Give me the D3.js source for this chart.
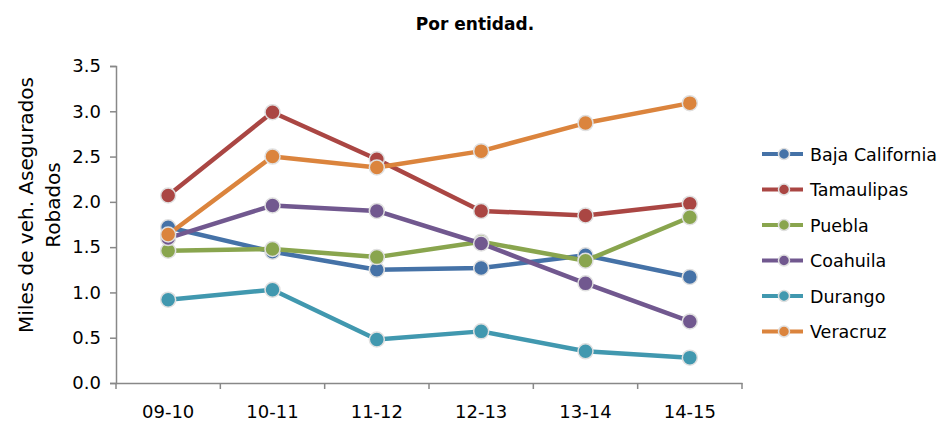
<!DOCTYPE html>
<html><head><meta charset="utf-8">
<script src="https://cdn.jsdelivr.net/npm/d3@7"></script>
<style>body{margin:0;background:#fff}svg{display:block}text{font-family:"DejaVu Sans",sans-serif}</style>
</head><body><svg id="c" width="949" height="423"></svg>
<script>
const categories = ["09-10","10-11","11-12","12-13","13-14","14-15"];
const seriesNames = ["Baja California","Tamaulipas","Puebla","Coahuila","Durango","Veracruz"];
const bajaCalifornia = [1.72,1.45,1.25,1.27,1.41,1.17];
const tamaulipas = [2.07,2.99,2.47,1.90,1.85,1.98];
const puebla = [1.46,1.48,1.39,1.56,1.35,1.83];
const coahuila = [1.60,1.96,1.90,1.54,1.10,0.68];
const durango = [0.92,1.03,0.48,0.57,0.35,0.28];
const veracruz = [1.64,2.50,2.38,2.56,2.87,3.09];
const colors = ["#4572a7","#aa4643","#89a54e","#71588f","#4198af","#db843d"];
const yTicks = [0,0.5,1.0,1.5,2.0,2.5,3.0,3.5];

(function(){
const seriesValues = [bajaCalifornia,tamaulipas,puebla,coahuila,durango,veracruz];
const svg = d3.select("#c");
const FONT = '"DejaVu Sans",sans-serif';
const pl = 116, pr = 742, pt = 66, pb = 383;
const x = d3.scaleBand().domain(categories).range([pl,pr]);
const y = d3.scaleLinear().domain([0,3.5]).range([pb,pt]);

svg.append("text").attr("x",475).attr("y",30).attr("text-anchor","middle")
  .attr("font-size",17).attr("font-weight","bold").text("Por entidad.");

const yAxis = svg.append("g").attr("transform",`translate(${pl},0)`)
  .call(d3.axisLeft(y).tickValues(yTicks).tickFormat(d3.format(".1f")).tickSize(6).tickPadding(9));
const xAxis = svg.append("g").attr("transform",`translate(0,${pb})`)
  .call(d3.axisBottom(x).tickSize(0).tickPadding(22));
xAxis.selectAll(".bnd").data(categories.concat([null])).enter().append("line")
  .attr("x1",(d,i)=>pl+i*x.step()).attr("x2",(d,i)=>pl+i*x.step())
  .attr("y1",0).attr("y2",6).attr("stroke","#888").attr("stroke-width",1.5);
[yAxis,xAxis].forEach(a=>{
  a.select(".domain").attr("stroke","#888").attr("stroke-width",1.5);
  a.selectAll(".tick line").attr("stroke","#888").attr("stroke-width",1.5);
  a.selectAll(".tick text").attr("font-size",18).attr("fill","#000").style("font-family",FONT);
});

svg.append("text").attr("transform","rotate(-90)").attr("x",-205).attr("y",33)
  .attr("font-size",20).attr("text-anchor","middle").text("Miles de veh. Asegurados");
svg.append("text").attr("transform","rotate(-90)").attr("x",-205).attr("y",60)
  .attr("font-size",20).attr("text-anchor","middle").text("Robados");

const line = d3.line().x((d,i)=>x(categories[i])+x.bandwidth()/2).y(d=>y(d));
seriesValues.forEach((vals,si)=>{
  const g = svg.append("g");
  g.append("path").datum(vals).attr("d",line).attr("fill","none")
    .attr("stroke",colors[si]).attr("stroke-width",4.5).attr("stroke-linejoin","round");
  g.selectAll("circle").data(vals).enter().append("circle")
    .attr("cx",(d,i)=>x(categories[i])+x.bandwidth()/2).attr("cy",d=>y(d))
    .attr("r",7.5).attr("fill",colors[si]).attr("stroke","#e0e0e0").attr("stroke-width",1.5);
});

const lg = svg.append("g");
seriesNames.forEach((n,i)=>{
  const cy = 154 + i*35.5;
  lg.append("line").attr("x1",762).attr("x2",803).attr("y1",cy).attr("y2",cy)
    .attr("stroke",colors[i]).attr("stroke-width",4);
  lg.append("circle").attr("cx",784).attr("cy",cy).attr("r",5.5).attr("fill",colors[i])
    .attr("stroke","#e0e0e0").attr("stroke-width",1.5);
  lg.append("text").attr("x",810).attr("y",cy+6.5).attr("font-size",17.5).text(n);
});
})();
</script></body></html>
